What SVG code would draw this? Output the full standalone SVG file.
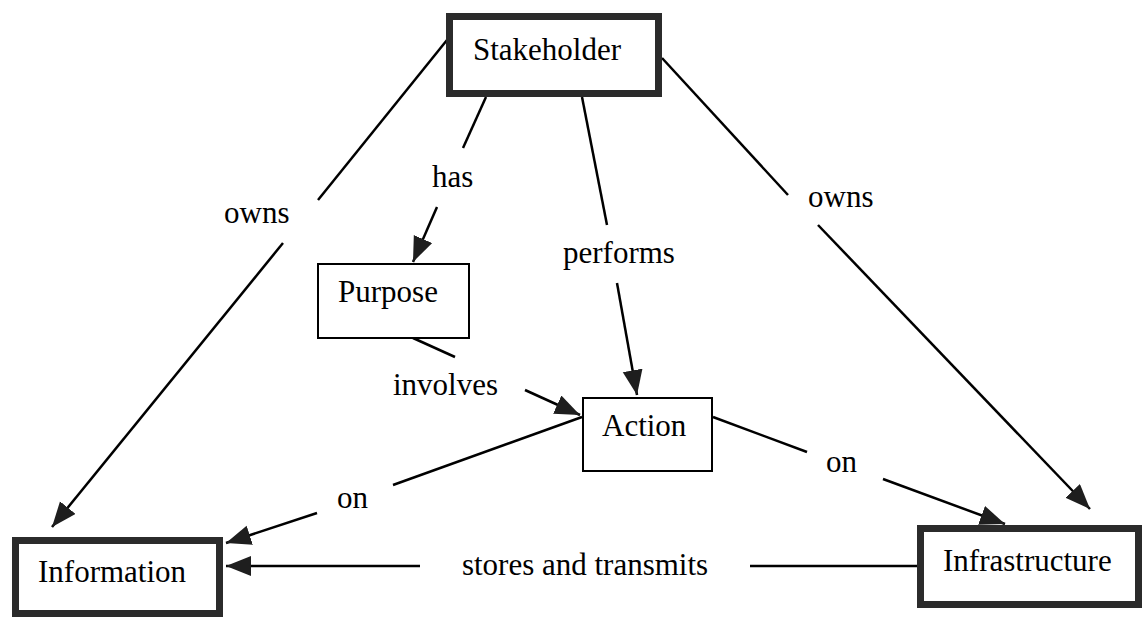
<svg xmlns="http://www.w3.org/2000/svg" width="1144" height="617" viewBox="0 0 1144 617">
<defs>
<marker id="arr" markerUnits="userSpaceOnUse" markerWidth="28" markerHeight="22" refX="25" refY="10" orient="auto">
<path d="M0,0 L25,10 L0,20 z" fill="#1e1e1e"/>
</marker>
<style>
.thick{fill:#fff;stroke:#2b2b2b;stroke-width:7}
.thin{fill:#fff;stroke:#000;stroke-width:2}
.c line{stroke:#000;stroke-width:2.5}
.t{font-family:"Liberation Serif","Times New Roman",serif;font-size:31px;fill:#000}
</style>
</defs>
<rect width="1144" height="617" fill="#fff"/>
<g class="c" id="connectors">
<line x1="447" y1="40" x2="318" y2="200"/>
<line x1="283" y1="243" x2="52" y2="527" marker-end="url(#arr)"/>
<line x1="486" y1="97" x2="463" y2="148"/>
<line x1="437" y1="207" x2="413" y2="262" marker-end="url(#arr)"/>
<line x1="582" y1="97" x2="607" y2="225"/>
<line x1="617" y1="283" x2="637" y2="395" marker-end="url(#arr)"/>
<line x1="662" y1="58" x2="788" y2="195"/>
<line x1="818" y1="225" x2="1090" y2="509" marker-end="url(#arr)"/>
<line x1="413" y1="338" x2="455" y2="357"/>
<line x1="525" y1="390" x2="580" y2="415" marker-end="url(#arr)"/>
<line x1="582" y1="417" x2="393" y2="485"/>
<line x1="317" y1="513" x2="226" y2="543" marker-end="url(#arr)"/>
<line x1="713" y1="417" x2="807" y2="452"/>
<line x1="883" y1="479" x2="1005" y2="524" marker-end="url(#arr)"/>
<line x1="917" y1="566" x2="750" y2="566"/>
<line x1="420" y1="566" x2="226" y2="566" marker-end="url(#arr)"/>
<text class="t" x="224" y="223">owns</text>
<text class="t" x="432" y="187">has</text>
<text class="t" x="563" y="263">performs</text>
<text class="t" x="808" y="207">owns</text>
<text class="t" x="393" y="395">involves</text>
<text class="t" x="337" y="508">on</text>
<text class="t" x="826" y="472">on</text>
<text class="t" x="585" y="575" text-anchor="middle">stores and transmits</text>
</g>
<g id="stakeholder">
<rect class="thick" x="449.5" y="16.5" width="209" height="77"/>
<text class="t" x="473" y="60">Stakeholder</text>
</g>
<g id="purpose">
<rect class="thin" x="318" y="264" width="151" height="74"/>
<text class="t" x="338" y="302">Purpose</text>
</g>
<g id="action">
<rect class="thin" x="583" y="398" width="129" height="73"/>
<text class="t" x="602" y="436">Action</text>
</g>
<g id="information">
<rect class="thick" x="15.5" y="540.5" width="204" height="73"/>
<text class="t" x="38" y="582">Information</text>
</g>
<g id="infrastructure">
<rect class="thick" x="920.5" y="528.5" width="218" height="76"/>
<text class="t" x="943" y="571">Infrastructure</text>
</g>
</svg>
